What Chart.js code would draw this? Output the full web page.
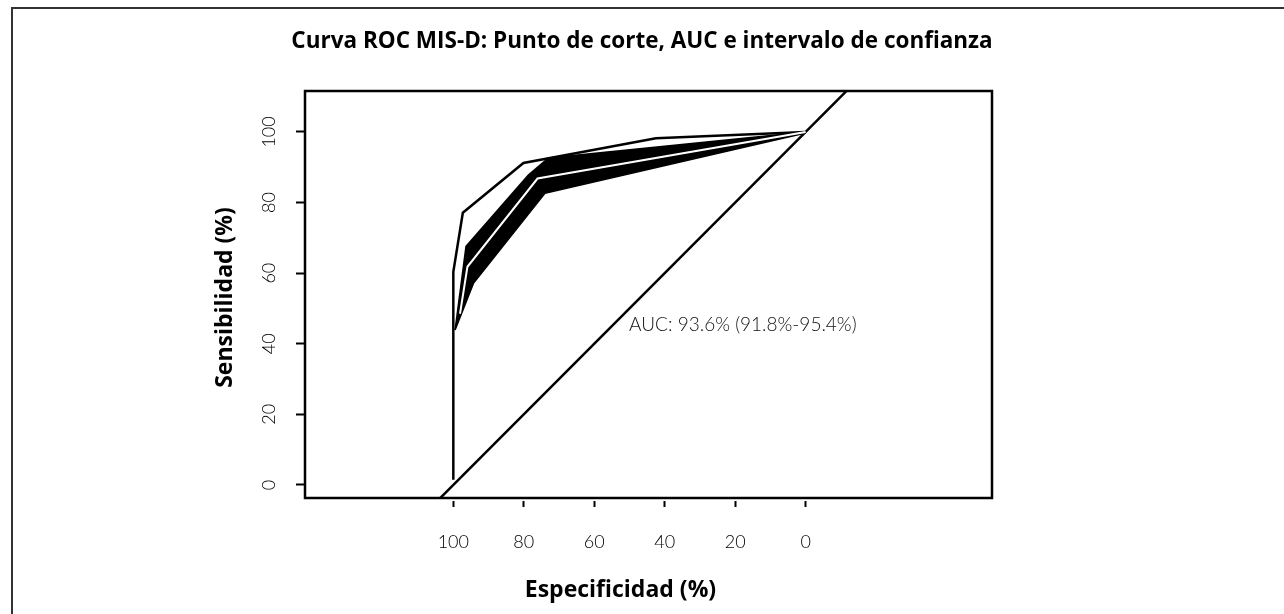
<!DOCTYPE html>
<html lang="es">
<head>
<meta charset="UTF-8">
<title>Curva ROC MIS-D</title>
<script src="https://cdn.jsdelivr.net/npm/chart.js@4.4.0/dist/chart.umd.min.js"></script>
<style>
  body { margin: 0; background: #fff; }
  /* marco exterior de la figura */
  #marco { position: absolute; left: 11px; top: 7px; right: 0; bottom: 0; border-left: 2px solid #333; border-top: 2px solid #333; }
  canvas { position: absolute; left: 0; top: 0; }
</style>
</head>
<body>
<div id="marco"></div>
<canvas id="roc" width="1284" height="614"></canvas>
<script>
// ticks de los ejes
const especTicks = [100, 80, 60, 40, 20, 0];
const sensTicks = [0, 20, 40, 60, 80, 100];

// curva exterior (linea negra)
const especExterior = [100, 100, 97.3, 80.1, 42.5, 0];
const sensExterior = [1.5, 60.4, 77.1, 91.2, 98.2, 100];

// banda del intervalo de confianza (relleno negro)
const especIcSup = [99.5, 96.4, 78.7, 73.0, 0];
const sensIcSup = [43.9, 67.6, 87.8, 92.6, 100];
const especIcInf = [99.5, 94.3, 74.0, 0];
const sensIcInf = [43.9, 57.1, 82.6, 99.7];

// curva ROC estimada (linea blanca)
const especRoc = [98.1, 96.0, 76.1, 0];
const sensRoc = [48.5, 61.8, 86.8, 100];

// diagonal de referencia
const especDiag = [115, -15];
const sensDiag = [-15, 115];

const titulo = 'Curva ROC MIS-D: Punto de corte, AUC e intervalo de confianza';
const tituloX = 'Especificidad (%)';
const tituloY = 'Sensibilidad (%)';
const aucTexto = 'AUC: 93.6% (91.8%-95.4%)';

function puntos(xs, ys) {
	return xs.map(function(x, i) { return {x: x, y: ys[i]}; });
}

Chart.defaults.font.family = 'Lato, "Open Sans", sans-serif';
Chart.defaults.color = '#000';

const extras = {
	id: 'extras',
	afterDatasetsDraw(chart) {
		const ctx = chart.ctx, a = chart.chartArea;
		const x = chart.scales.x, y = chart.scales.y;
		ctx.save();
		// caja del grafico
		ctx.strokeStyle = '#000';
		ctx.lineWidth = 2.5;
		ctx.strokeRect(a.left, a.top, a.right - a.left, a.bottom - a.top);
		// texto del AUC
		ctx.fillStyle = '#111';
		ctx.font = '300 19px Lato';
		ctx.textAlign = 'left';
		ctx.textBaseline = 'middle';
		ctx.fillText(aucTexto, x.getPixelForValue(50.1), y.getPixelForValue(45.3));
		ctx.restore();
	},
	afterDraw(chart) {
		const ctx = chart.ctx, a = chart.chartArea;
		const x = chart.scales.x;
		ctx.save();
		ctx.fillStyle = '#000';
		ctx.textAlign = 'center';
		ctx.textBaseline = 'middle';
		ctx.font = 'bold 22.5px "Open Sans"';
		ctx.fillText(titulo, 642, 42);
		ctx.font = 'bold 23px "Open Sans"';
		ctx.fillText(tituloX, (x.getPixelForValue(0) + x.getPixelForValue(100)) / 2 - 9, 590);
		ctx.translate(225, (a.top + a.bottom) / 2 + 3);
		ctx.rotate(-Math.PI / 2);
		ctx.fillText(tituloY, 0, 0);
		ctx.restore();
	}
};

new Chart(document.getElementById('roc'), {
	type: 'line',
	data: {
		datasets: [
			{ label: 'ROC', data: puntos(especRoc, sensRoc), borderColor: '#fff', borderWidth: 2, fill: false },
			{ label: 'Exterior', data: puntos(especExterior, sensExterior), borderColor: '#000', borderWidth: 2.5, fill: false },
			{ label: 'IC superior', data: puntos(especIcSup, sensIcSup), borderColor: '#000', borderWidth: 1.5, backgroundColor: '#000', fill: '+1' },
			{ label: 'IC inferior', data: puntos(especIcInf, sensIcInf), borderColor: '#000', borderWidth: 1.5, fill: false },
			{ label: 'Diagonal', data: puntos(especDiag, sensDiag), borderColor: '#000', borderWidth: 2.5, fill: false, clip: 0 }
		]
	},
	options: {
		responsive: false,
		animation: false,
		elements: { point: { radius: 0 }, line: { tension: 0 } },
		layout: { padding: { left: 200, right: 292, top: 91, bottom: 56 } },
		plugins: { legend: { display: false }, tooltip: { enabled: false }, title: { display: false } },
		scales: {
			x: {
				type: 'linear',
				reverse: true,
				min: -52.9,
				max: 142.1,
				afterBuildTicks: function(s) { s.ticks = especTicks.map(function(v) { return {value: v}; }); },
				afterFit: function(s) { s.height = 60; },
				ticks: { autoSkip: false, maxRotation: 0, minRotation: 0, padding: 24, font: { size: 18, weight: 300 } },
				grid: { drawOnChartArea: false, tickLength: 9, tickWidth: 2, tickColor: '#000', tickBorderDash: [0, 3, 6, 20] },
				border: { display: false }
			},
			y: {
				type: 'linear',
				min: -3.7,
				max: 111.6,
				afterBuildTicks: function(s) { s.ticks = sensTicks.map(function(v) { return {value: v}; }); },
				afterFit: function(s) { s.width = 105; },
				ticks: { autoSkip: false, minRotation: 90, maxRotation: 90, crossAlign: 'center', padding: 11, font: { size: 18, weight: 300 } },
				grid: { drawOnChartArea: false, tickLength: 9, tickWidth: 2, tickColor: '#000' },
				border: { display: false }
			}
		}
	},
	plugins: [extras]
});
</script>
</body>
</html>
